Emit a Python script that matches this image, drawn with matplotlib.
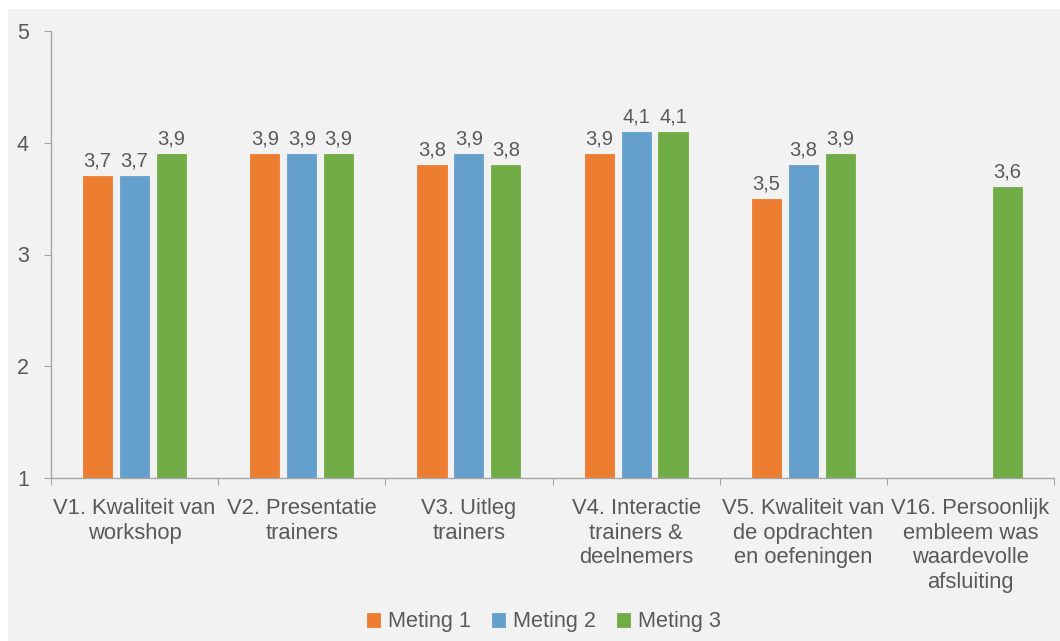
import numpy as np
import matplotlib.pyplot as plt
from matplotlib.patches import Rectangle

plt.rcParams['font.family'] = ['Liberation Sans', 'DejaVu Sans']

categories = ['V1. Kwaliteit van\nworkshop',
              'V2. Presentatie\ntrainers',
              'V3. Uitleg\ntrainers',
              'V4. Interactie\ntrainers &\ndeelnemers',
              'V5. Kwaliteit van\nde opdrachten\nen oefeningen',
              'V16. Persoonlijk\nembleem was\nwaardevolle\nafsluiting']
meting_1 = [3.7, 3.9, 3.8, 3.9, 3.5, np.nan]
meting_2 = [3.7, 3.9, 3.9, 4.1, 3.8, np.nan]
meting_3 = [3.9, 3.9, 3.8, 4.1, 3.9, 3.6]
series = [('Meting 1', meting_1, '#ED7D31'),
          ('Meting 2', meting_2, '#659FCC'),
          ('Meting 3', meting_3, '#70AD47')]

text_col = '#595959'
axis_col = '#A6A6A6'

fig = plt.figure(figsize=(10.6, 6.41), dpi=100)
fig.patches.append(Rectangle((8 / 1060, 0), 1, 1 - 9 / 641, transform=fig.transFigure,
                             facecolor='#F2F2F2', edgecolor='none', zorder=-10))
ax = fig.add_axes([51 / 1060, 1 - 478 / 641, (1054 - 51) / 1060, (478 - 31) / 641])
ax.set_facecolor('none')

x = np.arange(len(categories))
step = 0.221
width = 0.174
for i, (name, vals, col) in enumerate(series):
    vals = np.array(vals, dtype=float)
    bars = ax.bar(x + (i - 1) * step, vals - 1, width, bottom=1, color=col,
                  edgecolor=col, linewidth=0.6, label=name)
    labels = ['' if np.isnan(v) else f'{v:.1f}'.replace('.', ',') for v in vals]
    ax.bar_label(bars, labels=labels, padding=4, fontsize=14.5, color=text_col)

ax.set_xlim(-0.5, len(categories) - 0.5)
ax.set_ylim(1, 5)
ax.set_yticks([1, 2, 3, 4, 5])
ax.tick_params(axis='y', length=5, color=axis_col, labelcolor=text_col, labelsize=15.5, pad=11)

# category labels sit between the boundary ticks
ax.set_xticks(np.arange(len(categories) + 1) - 0.5)
ax.set_xticklabels([])
ax.tick_params(axis='x', length=5, color=axis_col)
for xi, lab in zip(x, categories):
    ax.text(xi, -0.045, lab, transform=ax.get_xaxis_transform(), ha='center', va='top',
            fontsize=15.8, color=text_col, linespacing=1.22)

for side in ['top', 'right']:
    ax.spines[side].set_visible(False)
for side in ['left', 'bottom']:
    ax.spines[side].set_color(axis_col)
    ax.spines[side].set_linewidth(1.0)

fig.legend(loc='center', bbox_to_anchor=(544 / 1060, 1 - 622 / 641), ncol=3, frameon=False,
           fontsize=15.6, labelcolor=text_col, handlelength=0.6, handleheight=0.6,
           handletextpad=0.35, columnspacing=1.0)

plt.savefig('out.png', dpi=100)
